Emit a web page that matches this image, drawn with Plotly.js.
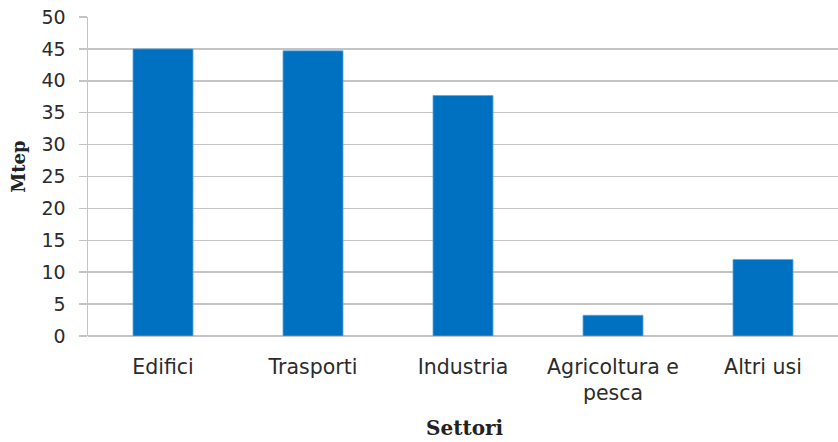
<!DOCTYPE html>
<html><head><meta charset="utf-8">
<script src="https://cdn.plot.ly/plotly-3.0.1.min.js"></script>
<style>html,body{margin:0;padding:0;background:#fff}</style>
</head><body><div id="chart" style="width:838px;height:442px"></div>
<script>
const categories = ["Edifici", "Trasporti", "Industria", "Agricoltura e<br>pesca", "Altri usi"];
const values = [45.0, 44.7, 37.7, 3.25, 12.0];
const yTicks = [0, 5, 10, 15, 20, 25, 30, 35, 40, 45, 50];
const xTitle = 'Settori';
const yTitle = 'Mtep';

const titleFont = {family: 'DejaVu Serif, serif', color: '#222', weight: 'bold'};

Plotly.newPlot('chart', [{
  type: 'bar', x: categories, y: values,
  marker: {color: '#0070C0', line: {color: '#5fa6dc', width: 0.8}},
  hoverinfo: 'skip'
}], {
  width: 838, height: 442,
  margin: {l: 88, r: 0, t: 17, b: 105.5},
  paper_bgcolor: '#fff', plot_bgcolor: '#fff',
  bargap: 0.6,
  showlegend: false,
  font: {family: 'DejaVu Sans, sans-serif', color: '#2b2b2b'},
  xaxis: {
    showgrid: false, zeroline: false, showline: false, ticks: '',
    tickfont: {size: 20.5, color: '#2b2b2b'},
    ticklabelstandoff: 16,
    automargin: false
  },
  yaxis: {
    range: [0, 50], tickvals: yTicks, ticktext: yTicks.map(String),
    showgrid: true, gridcolor: '#c4c4c4', gridwidth: 1.5,
    zeroline: true, zerolinecolor: '#c4c4c4', zerolinewidth: 1.5,
    showline: true, linecolor: '#c4c4c4', linewidth: 1.5,
    ticks: 'outside', ticklen: 8, tickcolor: '#c4c4c4', tickwidth: 1.5,
    tickfont: {size: 19, color: '#2b2b2b'},
    ticklabelstandoff: 9,
    automargin: false
  },
  annotations: [
    {text: yTitle, xref: 'paper', yref: 'paper', x: -0.092, y: 0.5305, showarrow: false,
     textangle: -90, xanchor: 'center', yanchor: 'middle', font: Object.assign({size: 18}, titleFont)},
    {text: xTitle, xref: 'paper', yref: 'paper', x: 0.502, y: -0.2895, showarrow: false,
     xanchor: 'center', yanchor: 'middle', font: Object.assign({size: 20}, titleFont)}
  ]
}, {displayModeBar: false, staticPlot: true});
</script></body></html>
